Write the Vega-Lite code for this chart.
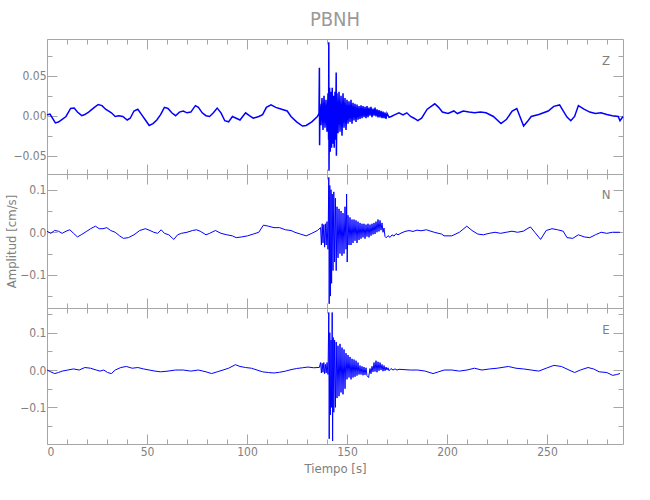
{
"$schema":"https://vega.github.io/schema/vega-lite/v6.json",
"padding":{"left":5,"top":10,"right":20,"bottom":10},
"title":{"text":"PBNH","fontSize":20,"font":"Liberation Sans Narrow, DejaVu Sans Condensed, Liberation Sans, sans-serif","fontWeight":"normal","color":"#999999","offset":8,"anchor":"middle","frame":"group"},
"config":{
 "font":"Liberation Sans Narrow, DejaVu Sans Condensed, Liberation Sans, sans-serif",
 "view":{"stroke":"#a6a6a6","strokeWidth":1},
 "axis":{"grid":false,"domain":false,"tickColor":"#a6a6a6","labelColor":"#808080","titleColor":"#808080","labelFont":"Liberation Sans Narrow, DejaVu Sans Condensed, Liberation Sans, sans-serif","titleFont":"Liberation Sans Narrow, DejaVu Sans Condensed, Liberation Sans, sans-serif","labelFontSize":12,"titleFontSize":13,"titleFontWeight":"normal","labelPadding":11,"tickSize":-10,"titlePadding":1}
},
"spacing":0,
"bounds":"flush",
"vconcat":[
{"width":576,"height":135,
 "resolve":{"axis":{"x":"independent","y":"independent"}},
 "layer":[
  {"data":{"name":"Z"},"mark":{"type":"line","color":"#0000ff","strokeWidth":1.5},
   "encoding":{
    "x":{"field":"t","type":"quantitative","scale":{"domain":[0,288],"nice":false,"zero":false},"axis":{"orient":"bottom","values":[0,50,100,150,200,250],"labels":false,"title":null}},
    "y":{"field":"a","type":"quantitative","scale":{"domain":[-0.073,0.096],"nice":false,"zero":false},"axis":{"orient":"left","values":[-0.05,0,0.05],"format":".2f","title":null}}}},
  {"data":{"name":"dom"},"mark":{"type":"point","opacity":0},
   "encoding":{
    "x":{"field":"t","type":"quantitative","axis":{"orient":"bottom","values":[10,20,30,40,60,70,80,90,110,120,130,140,160,170,180,190,210,220,230,240,260,270,280],"labels":false,"title":null,"tickSize":-5}},
    "y":{"field":"a","type":"quantitative","axis":{"orient":"left","values":[-0.025,0.025,0.075],"labels":false,"title":null,"tickSize":-5}}}},
  {"data":{"name":"dom"},"mark":{"type":"point","opacity":0},
   "encoding":{
    "x":{"field":"t","type":"quantitative","axis":{"orient":"top","values":[0,50,100,150,200,250],"labels":false,"title":null}},
    "y":{"field":"a","type":"quantitative","axis":{"orient":"right","values":[-0.05,0,0.05],"labels":false,"title":null}}}},
  {"data":{"name":"dom"},"mark":{"type":"point","opacity":0},
   "encoding":{
    "x":{"field":"t","type":"quantitative","axis":{"orient":"top","values":[10,20,30,40,60,70,80,90,110,120,130,140,160,170,180,190,210,220,230,240,260,270,280],"labels":false,"title":null,"tickSize":-5}},
    "y":{"field":"a","type":"quantitative","axis":{"orient":"right","values":[-0.025,0.025,0.075],"labels":false,"title":null,"tickSize":-5}}}},
  {"data":{"name":"lab"},"transform":[{"filter":"datum.c=='Z'"}],"mark":{"type":"text","color":"#808080","fontSize":13},
   "encoding":{"x":{"field":"t","type":"quantitative","axis":null},"y":{"field":"a","type":"quantitative","axis":null},"text":{"field":"c"}}}
 ]},
{"width":576,"height":134,
 "resolve":{"axis":{"x":"independent","y":"independent"}},
 "layer":[
  {"data":{"name":"N"},"mark":{"type":"line","color":"#0000ff","strokeWidth":1},
   "encoding":{
    "x":{"field":"t","type":"quantitative","scale":{"domain":[0,288],"nice":false,"zero":false},"axis":{"orient":"bottom","values":[0,50,100,150,200,250],"labels":false,"title":null}},
    "y":{"field":"a","type":"quantitative","scale":{"domain":[-0.178,0.137],"nice":false,"zero":false},"axis":{"orient":"left","values":[-0.1,0,0.1],"format":".1f","title":"Amplitud  [cm/s]"}}}},
  {"data":{"name":"dom"},"mark":{"type":"point","opacity":0},
   "encoding":{
    "x":{"field":"t","type":"quantitative","axis":{"orient":"bottom","values":[10,20,30,40,60,70,80,90,110,120,130,140,160,170,180,190,210,220,230,240,260,270,280],"labels":false,"title":null,"tickSize":-5}},
    "y":{"field":"a","type":"quantitative","axis":{"orient":"left","values":[-0.15,-0.05,0.05],"labels":false,"title":null,"tickSize":-5}}}},
  {"data":{"name":"dom"},"mark":{"type":"point","opacity":0},
   "encoding":{
    "x":{"field":"t","type":"quantitative","axis":{"orient":"top","values":[0,50,100,150,200,250],"labels":false,"title":null}},
    "y":{"field":"a","type":"quantitative","axis":{"orient":"right","values":[-0.1,0,0.1],"labels":false,"title":null}}}},
  {"data":{"name":"dom"},"mark":{"type":"point","opacity":0},
   "encoding":{
    "x":{"field":"t","type":"quantitative","axis":{"orient":"top","values":[10,20,30,40,60,70,80,90,110,120,130,140,160,170,180,190,210,220,230,240,260,270,280],"labels":false,"title":null,"tickSize":-5}},
    "y":{"field":"a","type":"quantitative","axis":{"orient":"right","values":[-0.15,-0.05,0.05],"labels":false,"title":null,"tickSize":-5}}}},
  {"data":{"name":"lab"},"transform":[{"filter":"datum.c=='N'"}],"mark":{"type":"text","color":"#808080","fontSize":13},
   "encoding":{"x":{"field":"t","type":"quantitative","axis":null},"y":{"field":"a","type":"quantitative","axis":null},"text":{"field":"c"}}}
 ]},
{"width":576,"height":136,
 "resolve":{"axis":{"x":"independent","y":"independent"}},
 "layer":[
  {"data":{"name":"E"},"mark":{"type":"line","color":"#0000ff","strokeWidth":1},
   "encoding":{
    "x":{"field":"t","type":"quantitative","scale":{"domain":[0,288],"nice":false,"zero":false},"axis":{"orient":"bottom","values":[0,50,100,150,200,250],"labelPadding":12,"title":"Tiempo  [s]","titlePadding":5}},
    "y":{"field":"a","type":"quantitative","scale":{"domain":[-0.198,0.166],"nice":false,"zero":false},"axis":{"orient":"left","values":[-0.1,0,0.1],"format":".1f","title":null}}}},
  {"data":{"name":"dom"},"mark":{"type":"point","opacity":0},
   "encoding":{
    "x":{"field":"t","type":"quantitative","axis":{"orient":"bottom","values":[10,20,30,40,60,70,80,90,110,120,130,140,160,170,180,190,210,220,230,240,260,270,280],"labels":false,"title":null,"tickSize":-5}},
    "y":{"field":"a","type":"quantitative","axis":{"orient":"left","values":[-0.15,-0.05,0.05,0.15],"labels":false,"title":null,"tickSize":-5}}}},
  {"data":{"name":"dom"},"mark":{"type":"point","opacity":0},
   "encoding":{
    "x":{"field":"t","type":"quantitative","axis":{"orient":"top","values":[0,50,100,150,200,250],"labels":false,"title":null}},
    "y":{"field":"a","type":"quantitative","axis":{"orient":"right","values":[-0.1,0,0.1],"labels":false,"title":null}}}},
  {"data":{"name":"dom"},"mark":{"type":"point","opacity":0},
   "encoding":{
    "x":{"field":"t","type":"quantitative","axis":{"orient":"top","values":[10,20,30,40,60,70,80,90,110,120,130,140,160,170,180,190,210,220,230,240,260,270,280],"labels":false,"title":null,"tickSize":-5}},
    "y":{"field":"a","type":"quantitative","axis":{"orient":"right","values":[-0.15,-0.05,0.05,0.15],"labels":false,"title":null,"tickSize":-5}}}},
  {"data":{"name":"lab"},"transform":[{"filter":"datum.c=='E'"}],"mark":{"type":"text","color":"#808080","fontSize":13},
   "encoding":{"x":{"field":"t","type":"quantitative","axis":null},"y":{"field":"a","type":"quantitative","axis":null},"text":{"field":"c"}}}
 ]}
],
"datasets":{
"dom":[{"t":0,"a":0}],
"lab":[{"c":"Z","t":279.5,"a":0.069},{"c":"N","t":279.5,"a":0.0875},{"c":"E","t":279.5,"a":0.107}],
"Z":[{"t":0,"a":0.001},{"t":1.5,"a":0.002},{"t":4.2,"a":-0.009},{"t":5.7,"a":-0.008},{"t":7.6,"a":-0.0045},{"t":9.5,"a":-0.001},{"t":11.8,"a":0.009},{"t":13.6,"a":0.0095},{"t":15.2,"a":0.0045},{"t":17.4,"a":0},{"t":18.9,"a":0.0014},{"t":20.8,"a":0.0045},{"t":23.7,"a":0.0104},{"t":25.6,"a":0.014},{"t":27.5,"a":0.0126},{"t":29.3,"a":0.0081},{"t":32.2,"a":0.0036},{"t":34.1,"a":-0.001},{"t":35.9,"a":0},{"t":37.9,"a":-0.001},{"t":40.1,"a":-0.0054},{"t":41.6,"a":-0.0032},{"t":43.5,"a":0.0059},{"t":45.4,"a":0.0081},{"t":47.3,"a":0.0014},{"t":49.2,"a":-0.0054},{"t":51.1,"a":-0.0122},{"t":53,"a":-0.0099},{"t":54.9,"a":-0.0054},{"t":56.8,"a":0.0014},{"t":58.7,"a":0.0104},{"t":60.5,"a":0.009},{"t":62.4,"a":0.0036},{"t":64.3,"a":0},{"t":66.2,"a":0.0045},{"t":68.1,"a":0.0059},{"t":70,"a":0.0036},{"t":71.9,"a":0.0045},{"t":74.2,"a":0.0126},{"t":75.7,"a":0.0104},{"t":77.6,"a":0.0036},{"t":79.5,"a":0},{"t":81.3,"a":-0.001},{"t":83.2,"a":0.0036},{"t":85.1,"a":0.0095},{"t":87,"a":0.0036},{"t":88.9,"a":-0.0063},{"t":90.8,"a":-0.0077},{"t":92.7,"a":-0.001},{"t":94.6,"a":-0.0032},{"t":96.5,"a":-0.0054},{"t":99.3,"a":0.0036},{"t":101.2,"a":0},{"t":103.1,"a":-0.0032},{"t":105.9,"a":-0.001},{"t":107.8,"a":0.0014},{"t":109.7,"a":0.0104},{"t":112,"a":0.0135},{"t":114.4,"a":0.0104},{"t":117.3,"a":0.0081},{"t":120.1,"a":0.0059},{"t":122,"a":-0.001},{"t":124.8,"a":-0.0077},{"t":127.7,"a":-0.013},{"t":129.6,"a":-0.0122},{"t":132.4,"a":-0.0077},{"t":135.2,"a":-0.001},{"t":136,"a":0.003},
{"t":136.2,"a":0.06},{"t":136.3,"a":-0.037},{"t":136.5,"a":0.015},{"t":137,"a":-0.012},{"t":137.5,"a":0.022},{"t":138,"a":-0.018},{"t":138.5,"a":0.025},{"t":139,"a":-0.015},{"t":139.5,"a":0.02},{"t":140,"a":-0.02},{"t":140.5,"a":0.028},{"t":140.8,"a":-0.03},{"t":140.9,"a":0.092},{"t":141,"a":-0.069},{"t":141.3,"a":0.035},{"t":141.6,"a":-0.045},{"t":142,"a":0.03},{"t":142.3,"a":-0.04},{"t":142.6,"a":0.035},{"t":143,"a":-0.035},{"t":143.3,"a":0.025},{"t":143.6,"a":-0.04},{"t":144,"a":0.03},{"t":144.3,"a":-0.03},{"t":144.6,"a":0.054},{"t":144.7,"a":-0.05},{"t":145,"a":0.028},{"t":145.5,"a":-0.022},{"t":146,"a":0.03},{"t":146.5,"a":-0.02},{"t":147,"a":0.025},{"t":147.5,"a":-0.025},{"t":148,"a":0.028},{"t":148.5,"a":-0.015},{"t":149,"a":0.022},{"t":149.5,"a":-0.018},{"t":150,"a":0.02},{"t":150.5,"a":-0.01},{"t":151,"a":0.018},{"t":151.5,"a":-0.008},{"t":152,"a":0.02},{"t":152.5,"a":-0.01},{"t":153,"a":0.016},{"t":153.5,"a":-0.006},{"t":154,"a":0.015},{"t":154.5,"a":-0.008},{"t":155,"a":0.014},{"t":155.5,"a":-0.005},{"t":156,"a":0.012},{"t":156.5,"a":-0.004},{"t":157,"a":0.013},{"t":157.5,"a":-0.003},{"t":158,"a":0.012},{"t":158.5,"a":-0.002},{"t":159,"a":0.011},{"t":159.5,"a":-0.003},{"t":160,"a":0.012},{"t":160.5,"a":-0.002},{"t":161,"a":0.01},{"t":161.5,"a":0},{"t":162,"a":0.011},{"t":162.5,"a":-0.002},{"t":163,"a":0.009},{"t":163.5,"a":0},{"t":164,"a":0.01},{"t":164.5,"a":-0.001},{"t":165,"a":0.008},{"t":165.5,"a":-0.002},{"t":166,"a":0.007},{"t":166.5,"a":-0.002},{"t":167,"a":0.006},{"t":167.5,"a":-0.003},{"t":168,"a":0.005},{"t":168.5,"a":-0.003},{"t":169,"a":0.004},{"t":169.5,"a":-0.004},{"t":170,"a":0.003},{"t":171,"a":-0.002},
{"t":172.1,"a":-0.001},{"t":174,"a":0.0014},{"t":176,"a":0.0036},{"t":178,"a":0.001},{"t":179.9,"a":0.0036},{"t":181.8,"a":-0.001},{"t":183.5,"a":-0.0032},{"t":185.4,"a":-0.0063},{"t":187.3,"a":-0.0032},{"t":190.1,"a":0.0081},{"t":193.9,"a":0.0149},{"t":195.8,"a":0.0104},{"t":197.7,"a":0.0045},{"t":200.5,"a":0.0027},{"t":203.4,"a":0.0059},{"t":205.2,"a":0.0027},{"t":208.1,"a":0.0059},{"t":211,"a":0.0045},{"t":213.8,"a":0.0036},{"t":216.7,"a":0.0045},{"t":219.5,"a":0.0036},{"t":223.2,"a":-0.001},{"t":227,"a":-0.0099},{"t":229.8,"a":-0.0045},{"t":232.6,"a":0.0059},{"t":234.9,"a":0.009},{"t":236.8,"a":-0.0032},{"t":238.3,"a":-0.013},{"t":240.1,"a":-0.0077},{"t":242.1,"a":-0.001},{"t":245.9,"a":0.0014},{"t":250.6,"a":0.0059},{"t":253.4,"a":0.0117},{"t":256.3,"a":0.0135},{"t":258.1,"a":0.0059},{"t":260,"a":-0.0018},{"t":261.9,"a":-0.0063},{"t":263.8,"a":-0.001},{"t":265.7,"a":0.0126},{"t":268.5,"a":0.0081},{"t":271.4,"a":0.0045},{"t":274.2,"a":0.0027},{"t":277,"a":0.0036},{"t":279.9,"a":0.0014},{"t":282.7,"a":0},{"t":285.6,"a":-0.001},{"t":286.5,"a":-0.0063},{"t":288,"a":-0.001}],
"N":[{"t":0,"a":0.0025},{"t":1.9,"a":-0.0025},{"t":3.8,"a":0.0042},{"t":5.7,"a":0.0025},{"t":7.6,"a":-0.0025},{"t":9.5,"a":0.0025},{"t":11.4,"a":0.0059},{"t":13.3,"a":-0.0025},{"t":15.2,"a":-0.0109},{"t":17.1,"a":-0.0059},{"t":19.9,"a":0.0025},{"t":21.8,"a":0.0084},{"t":24.2,"a":0.0143},{"t":26.1,"a":0.0084},{"t":28,"a":0.0084},{"t":29.9,"a":0.0109},{"t":31.8,"a":0.0042},{"t":34.1,"a":0},{"t":36.3,"a":-0.0084},{"t":38.2,"a":-0.0143},{"t":40.7,"a":-0.0126},{"t":43.5,"a":-0.0059},{"t":46.4,"a":0.0042},{"t":49.2,"a":0.0084},{"t":51.5,"a":0.0042},{"t":53.4,"a":0},{"t":55.3,"a":-0.0025},{"t":57.1,"a":0.0059},{"t":58.7,"a":-0.0025},{"t":60.9,"a":-0.0059},{"t":63.4,"a":-0.0168},{"t":65.3,"a":-0.0059},{"t":67.2,"a":-0.0025},{"t":70,"a":0},{"t":72.8,"a":0.0042},{"t":74.7,"a":0.0059},{"t":76.6,"a":0.0025},{"t":79.5,"a":-0.0059},{"t":81.3,"a":-0.0025},{"t":84.2,"a":0.0042},{"t":87,"a":-0.0025},{"t":89.9,"a":-0.0059},{"t":92.7,"a":-0.0084},{"t":94.6,"a":-0.0126},{"t":97.4,"a":-0.0109},{"t":100.3,"a":-0.0084},{"t":103.1,"a":-0.0042},{"t":105.9,"a":0},{"t":108.2,"a":0.0168},{"t":110.7,"a":0.0143},{"t":113.5,"a":0.0109},{"t":116.3,"a":0.0109},{"t":119.2,"a":0.0059},{"t":122,"a":0.0042},{"t":123.9,"a":0},{"t":126.7,"a":-0.0042},{"t":129.6,"a":-0.0084},{"t":132.4,"a":-0.0025},{"t":135.2,"a":0.0042},{"t":136.8,"a":0.011},
{"t":137.2,"a":-0.03},{"t":137.6,"a":0.02},{"t":138,"a":-0.025},{"t":138.4,"a":0.018},{"t":138.8,"a":-0.035},{"t":139.2,"a":0.02},{"t":139.6,"a":-0.03},{"t":140,"a":0.025},{"t":140.5,"a":-0.04},{"t":140.9,"a":0.129},{"t":141.1,"a":-0.168},{"t":141.4,"a":0.11},{"t":141.7,"a":-0.15},{"t":142,"a":0.1},{"t":142.3,"a":-0.12},{"t":142.6,"a":0.09},{"t":143,"a":-0.09},{"t":143.4,"a":0.095},{"t":143.8,"a":-0.07},{"t":144.2,"a":0.08},{"t":144.6,"a":-0.09},{"t":145,"a":0.06},{"t":145.5,"a":-0.06},{"t":146,"a":0.055},{"t":146.5,"a":-0.05},{"t":147,"a":0.05},{"t":147.5,"a":-0.055},{"t":148,"a":0.045},{"t":148.5,"a":-0.05},{"t":149,"a":0.06},{"t":149.5,"a":-0.04},{"t":149.8,"a":0.09},{"t":150.1,"a":-0.07},{"t":150.5,"a":0.04},{"t":151,"a":-0.03},{"t":151.5,"a":0.035},{"t":152,"a":-0.03},{"t":152.5,"a":0.03},{"t":153,"a":-0.025},{"t":153.5,"a":0.03},{"t":154,"a":-0.02},{"t":154.5,"a":0.028},{"t":155,"a":-0.025},{"t":155.5,"a":0.025},{"t":156,"a":-0.018},{"t":156.5,"a":0.022},{"t":157,"a":-0.015},{"t":157.5,"a":0.02},{"t":158,"a":-0.012},{"t":158.5,"a":0.02},{"t":159,"a":-0.015},{"t":159.5,"a":0.018},{"t":160,"a":-0.01},{"t":160.5,"a":0.02},{"t":161,"a":-0.012},{"t":161.5,"a":0.018},{"t":162,"a":-0.008},{"t":162.5,"a":0.02},{"t":163,"a":-0.005},{"t":163.5,"a":0.022},{"t":164,"a":-0.004},{"t":164.5,"a":0.025},{"t":165,"a":0},{"t":165.5,"a":0.03},{"t":166,"a":0.002},{"t":166.5,"a":0.028},{"t":167,"a":0.005},{"t":167.5,"a":0.022},{"t":168,"a":0},{"t":168.5,"a":0.01},{"t":169,"a":-0.01},{"t":169.6,"a":-0.013},{"t":170.5,"a":-0.008},{"t":171.5,"a":-0.012},{"t":172.5,"a":-0.006},{"t":173.5,"a":-0.009},{"t":174.5,"a":-0.003},{"t":175.5,"a":-0.006},
{"t":177,"a":-0.002},{"t":179,"a":0.002},{"t":181,"a":0.004},{"t":183,"a":0.002},{"t":185,"a":0.005},{"t":187,"a":0.0035},{"t":189.7,"a":0.0059},{"t":193.6,"a":0},{"t":197.3,"a":-0.0042},{"t":198.5,"a":-0.0084},{"t":202.4,"a":-0.0084},{"t":206.2,"a":0},{"t":209.9,"a":0.0143},{"t":212.5,"a":0.0042},{"t":215.4,"a":-0.0042},{"t":218.2,"a":-0.0059},{"t":221.1,"a":-0.0025},{"t":224,"a":0},{"t":226.8,"a":-0.0025},{"t":229.6,"a":0},{"t":232.5,"a":0.0025},{"t":235.3,"a":0},{"t":238.1,"a":0.0025},{"t":241.7,"a":0.0126},{"t":243.9,"a":0},{"t":246.8,"a":-0.0168},{"t":249.6,"a":0.0042},{"t":252.5,"a":0.0084},{"t":255.3,"a":0.0059},{"t":258.1,"a":0.0025},{"t":260,"a":-0.0126},{"t":262.9,"a":-0.0143},{"t":265.7,"a":-0.0059},{"t":268.6,"a":-0.0109},{"t":271.4,"a":-0.0126},{"t":274.2,"a":-0.0059},{"t":277.1,"a":0},{"t":279.9,"a":-0.0025},{"t":282.7,"a":0},{"t":285.6,"a":0},{"t":286.5,"a":0}],
"E":[{"t":0,"a":0},{"t":1.9,"a":-0.0048},{"t":3.8,"a":-0.0095},{"t":5.7,"a":-0.0067},{"t":7.6,"a":-0.0029},{"t":10.4,"a":0},{"t":13.3,"a":0.0029},{"t":16.1,"a":0},{"t":18.9,"a":0.0067},{"t":21.8,"a":0.0048},{"t":24.6,"a":0},{"t":26.5,"a":-0.0029},{"t":28.4,"a":0},{"t":30.3,"a":-0.0067},{"t":32.2,"a":-0.0095},{"t":34.1,"a":0},{"t":36.9,"a":0.0067},{"t":39.7,"a":0.0095},{"t":42.6,"a":0.0048},{"t":45.4,"a":0.0067},{"t":48.3,"a":0.0029},{"t":51.1,"a":0},{"t":54,"a":-0.0029},{"t":56.8,"a":-0.0048},{"t":60.5,"a":-0.0029},{"t":64.3,"a":0},{"t":68.1,"a":0},{"t":71.9,"a":-0.0029},{"t":75.7,"a":0},{"t":79.5,"a":-0.0048},{"t":82.3,"a":-0.0095},{"t":85.1,"a":-0.0048},{"t":88,"a":0},{"t":90.8,"a":0.0048},{"t":94.2,"a":0.0143},{"t":96.5,"a":0.0095},{"t":99.3,"a":0.0067},{"t":102.2,"a":0.0048},{"t":105,"a":0},{"t":107.8,"a":-0.0048},{"t":110.7,"a":-0.0067},{"t":113.5,"a":-0.008},{"t":116.3,"a":-0.006},{"t":119.2,"a":-0.003},{"t":122,"a":0.001},{"t":124.8,"a":0.004},{"t":127.7,"a":0.006},{"t":130.5,"a":0.008},{"t":133.4,"a":0.006},{"t":136.2,"a":0.007},
{"t":136.8,"a":0.02},{"t":137.2,"a":-0.008},{"t":137.6,"a":0.018},{"t":138,"a":-0.006},{"t":138.4,"a":0.02},{"t":138.8,"a":-0.01},{"t":139.2,"a":0.015},{"t":139.6,"a":-0.008},{"t":140,"a":0.02},{"t":140.5,"a":-0.012},{"t":140.9,"a":0.154},{"t":141.1,"a":-0.184},{"t":141.4,"a":0.1},{"t":141.7,"a":-0.12},{"t":142,"a":0.08},{"t":142.3,"a":-0.1},{"t":142.6,"a":0.154},{"t":142.8,"a":-0.19},{"t":143.1,"a":0.087},{"t":143.4,"a":-0.113},{"t":143.8,"a":0.08},{"t":144.2,"a":-0.1},{"t":144.6,"a":0.075},{"t":145,"a":-0.075},{"t":145.5,"a":0.065},{"t":146,"a":-0.07},{"t":146.5,"a":0.07},{"t":147,"a":-0.06},{"t":147.5,"a":0.06},{"t":148,"a":-0.065},{"t":148.5,"a":0.055},{"t":149,"a":-0.05},{"t":149.5,"a":0.045},{"t":150,"a":-0.025},{"t":150.5,"a":0.04},{"t":151,"a":-0.02},{"t":151.5,"a":0.035},{"t":152,"a":-0.025},{"t":152.5,"a":0.03},{"t":153,"a":-0.02},{"t":153.5,"a":0.028},{"t":154,"a":-0.018},{"t":154.5,"a":0.025},{"t":155,"a":-0.015},{"t":155.5,"a":0.02},{"t":156,"a":-0.012},{"t":156.5,"a":0.012},{"t":157,"a":-0.012},{"t":157.5,"a":0.01},{"t":158,"a":-0.014},{"t":158.5,"a":0.008},{"t":159,"a":-0.013},{"t":159.5,"a":0.006},{"t":160,"a":-0.015},{"t":160.8,"a":-0.02},{"t":161.5,"a":0.004},{"t":162,"a":-0.01},{"t":162.5,"a":0.01},{"t":163,"a":-0.005},{"t":163.5,"a":0.02},{"t":164,"a":-0.004},{"t":164.5,"a":0.025},{"t":165,"a":-0.006},{"t":165.5,"a":0.022},{"t":166,"a":-0.002},{"t":166.5,"a":0.02},{"t":167,"a":0},{"t":167.5,"a":0.015},{"t":168,"a":-0.003},{"t":168.5,"a":0.012},{"t":169,"a":-0.002},{"t":169.5,"a":0.008},{"t":170,"a":0},{"t":170.5,"a":0.006},{"t":171,"a":-0.002},{"t":172,"a":0.004},{"t":173,"a":0},{"t":174,"a":0.003},{"t":175,"a":0},{"t":176,"a":0.002},
{"t":181.6,"a":0},{"t":185.4,"a":0},{"t":189.1,"a":-0.0029},{"t":193,"a":-0.0095},{"t":195.8,"a":-0.0048},{"t":198.6,"a":0},{"t":202.4,"a":0},{"t":206.2,"a":-0.0029},{"t":210,"a":0},{"t":213.7,"a":0.0048},{"t":217.5,"a":0},{"t":221.3,"a":0.0029},{"t":225.1,"a":0.0048},{"t":230.7,"a":0.0095},{"t":234.5,"a":0.0048},{"t":238.3,"a":0.0029},{"t":242.1,"a":0},{"t":245.9,"a":-0.0029},{"t":249.6,"a":0.0048},{"t":253.4,"a":0.0124},{"t":257.2,"a":0.0095},{"t":261,"a":0},{"t":263.8,"a":-0.0067},{"t":266.7,"a":0},{"t":270.5,"a":0.0067},{"t":273.3,"a":0.0029},{"t":276.1,"a":-0.0048},{"t":279.9,"a":-0.0067},{"t":282.8,"a":-0.0143},{"t":284.6,"a":-0.0124},{"t":286.5,"a":-0.0095}]
}
}
